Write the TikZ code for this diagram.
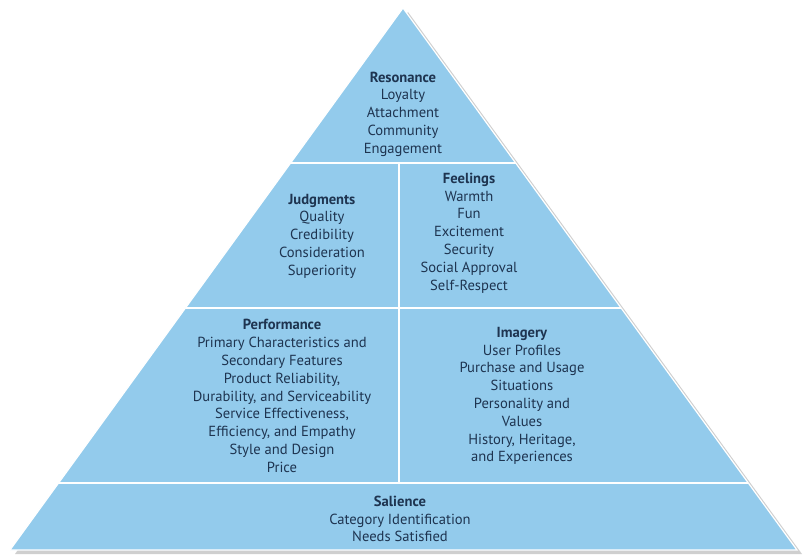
\documentclass[tikz,border=0pt]{standalone}
\usepackage{fontspec}
\setmainfont{PT Sans}
\usetikzlibrary{positioning}
\definecolor{pyrblue}{HTML}{93CBEC}
\definecolor{pyrtext}{HTML}{1E3450}
\definecolor{pyrshadow}{HTML}{CFCFCF}

\begin{document}
\begin{tikzpicture}[x=1pt, y=-1pt,
    block/.style={align=center, text=pyrtext, inner sep=0pt, font=\fontsize{14.6}{17.8}\selectfont},
    divider/.style={white, line width=2pt}]
    \useasboundingbox (0,0) rectangle (803,556);
    % corners of the pyramid
    \coordinate (apex) at (403,8);
    \coordinate (bl) at (10,550);
    \coordinate (br) at (797,550);

    % shadow and body
    \fill[pyrshadow] ([shift={(5,4)}]apex) -- ([shift={(5,4)}]br) -- ([shift={(5,4)}]bl) -- cycle;
    \fill[pyrblue] (apex) -- (br) -- (bl) -- cycle;

    % levels
    \begin{scope}
        \clip (apex) -- (br) -- (bl) -- cycle;
        \draw[divider] (0,163) -- (803,163);
        \draw[divider] (0,308) -- (803,308);
        \draw[divider] (0,483) -- (803,483);
        \draw[divider] (399,163) -- (399,483);
    \end{scope}
    \draw[white, line width=1.2pt, line join=miter] (apex) -- (br) -- (bl) -- cycle;

    \node [block] (resonance) at (403,114) {\textbf{Resonance}\\Loyalty\\Attachment\\Community\\Engagement};
    \node [block] (judgments) at (322,236) {\textbf{Judgments}\\Quality\\Credibility\\Consideration\\Superiority};
    \node [block] (feelings) at (469,233) {\textbf{Feelings}\\Warmth\\Fun\\Excitement\\Security\\Social Approval\\Self-Respect};
    \node [block] (performance) at (282,396) {\textbf{Performance}\\Primary Characteristics and\\Secondary Features\\Product Reliability,\\Durability, and Serviceability\\Service Effectiveness,\\Efficiency, and Empathy\\Style and Design\\Price};
    \node [block] (imagery) at (522,396) {\textbf{Imagery}\\User Profiles\\Purchase and Usage\\Situations\\Personality and\\Values\\History, Heritage,\\and Experiences};
    \node [block] (salience) at (400,519) {\textbf{Salience}\\Category Identification\\Needs Satisfied};
\end{tikzpicture}
\end{document}
